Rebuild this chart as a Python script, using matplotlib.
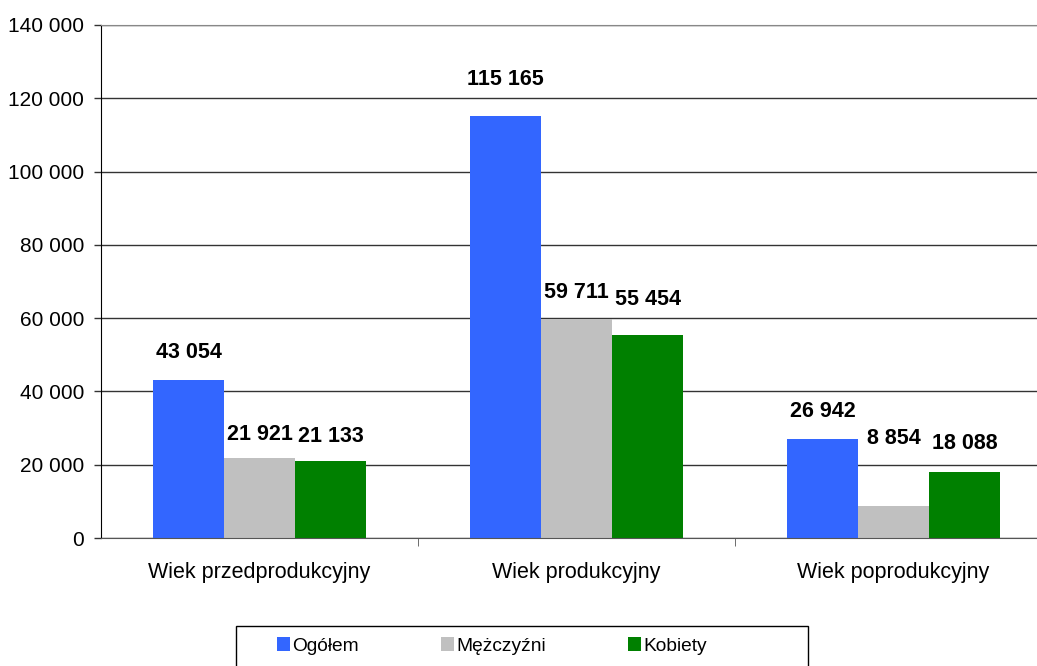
import matplotlib.pyplot as plt
from matplotlib.patches import Rectangle
import numpy as np

categories = ['Wiek przedprodukcyjny', 'Wiek produkcyjny', 'Wiek poprodukcyjny']
series_names = ['Ogółem', 'Mężczyźni', 'Kobiety']
ogolem = [43054, 115165, 26942]
mezczyzni = [21921, 59711, 8854]
kobiety = [21133, 55454, 18088]

colors = ['#3366FF', '#C0C0C0', '#008000']
# label offsets above bar tops (pixels), as placed in the original
label_off = [[28, 37, 28], [23, 27, 67], [24, 35, 28]]

plt.rcParams['font.family'] = ['Liberation Sans', 'DejaVu Sans']

DPI = 100
FS = 15.5
fig = plt.figure(figsize=(10.37, 6.66), dpi=DPI)
ax = fig.add_axes([101/1037, 128/666, 951/1037, 513/666])

x = np.arange(len(categories))
w = 0.224
data = [ogolem, mezczyzni, kobiety]
for i, (vals, c, name) in enumerate(zip(data, colors, series_names)):
    xs = x + (i - 1) * w
    ax.bar(xs, vals, width=w, color=c, label=name, zorder=2)
    for xi, v, off in zip(xs, vals, label_off[i]):
        txt = '{:,}'.format(v).replace(',', ' ')
        ax.annotate(txt, (xi, v), xytext=(0, off * 72 / DPI), textcoords='offset points',
                    ha='center', va='center', fontsize=FS, fontweight='bold')

ax.set_xlim(-0.5, 2.5)
ax.set_ylim(0, 140000)
yt = np.arange(0, 140001, 20000)
ax.set_yticks(yt)
ax.set_yticklabels(['{:,}'.format(t).replace(',', ' ') for t in yt], fontsize=15)
ax.yaxis.grid(True, color='#333333', linewidth=1.0, zorder=0)
ax.set_axisbelow(True)

ax.set_xticks(x)
ax.set_xticklabels(categories, fontsize=FS)
ax.tick_params(axis='x', length=0, pad=17)
ax.set_xticks([0.5, 1.5, 2.5], minor=True)
ax.tick_params(axis='x', which='minor', length=6, color='#555555')
ax.tick_params(axis='y', length=5, width=1, color='#333333', pad=7)

ax.spines['top'].set_color('#888888')
ax.spines['right'].set_visible(False)
ax.spines['left'].set_color('black')
ax.spines['bottom'].set_color('#555555')

# legend box (runs off the bottom edge like the original)
fig.patches.append(Rectangle((236/1037, -0.02), 572/1037, 0.02 + 40/666,
                             transform=fig.transFigure, fill=False,
                             edgecolor='black', linewidth=1.0))
handles, labels = ax.get_legend_handles_labels()
fig.legend(handles, labels, loc='center left', bbox_to_anchor=(277/1037, 1 - 646/666),
           ncol=3, fontsize=13.8, frameon=False, borderpad=0, borderaxespad=0,
           handlelength=0.68, handleheight=0.68, handletextpad=0.1, columnspacing=4.3)

fig.savefig('out.png', dpi=DPI)
